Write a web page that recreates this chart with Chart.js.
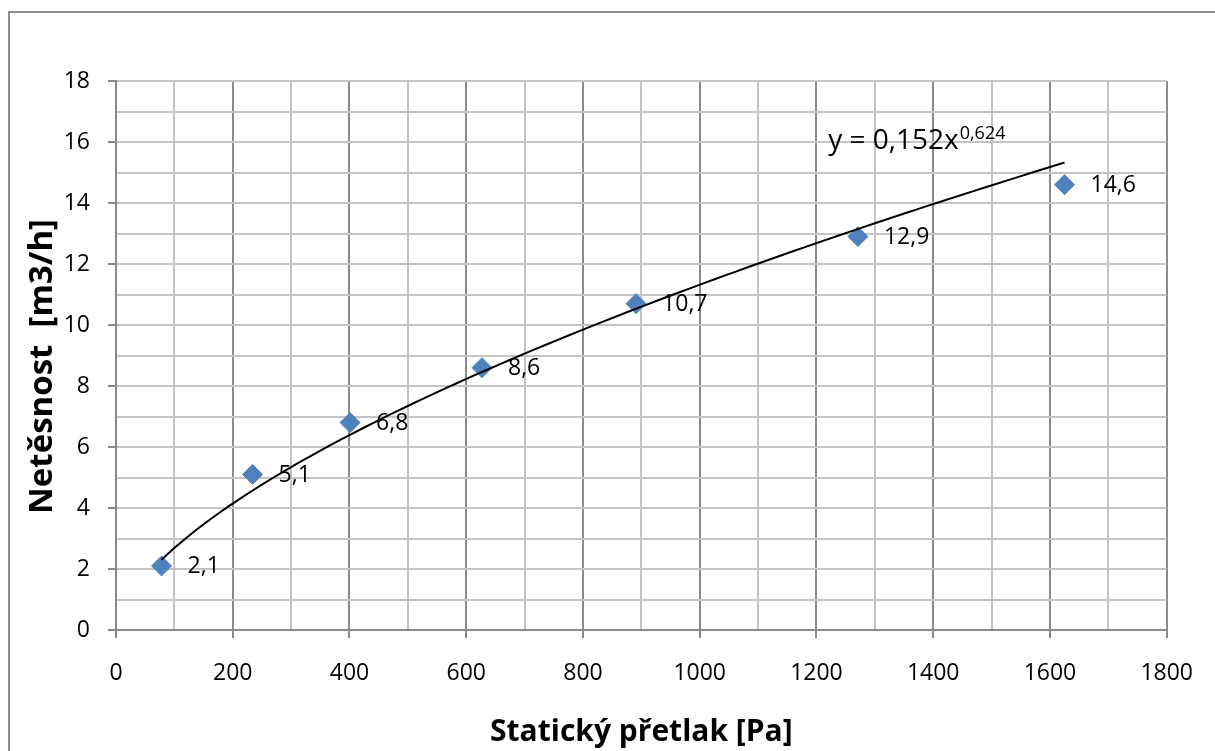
<!DOCTYPE html>
<html lang="cs">
<head>
<meta charset="utf-8">
<title>Netěsnost v závislosti na statickém přetlaku</title>
<script src="https://cdn.jsdelivr.net/npm/chart.js@4/dist/chart.umd.min.js"></script>
<style>
  html, body { margin: 0; padding: 0; background: #ffffff; }
  #wrap { width: 1215px; height: 751px; position: relative; }
</style>
</head>
<body>
<div id="wrap"><canvas id="chart" width="1215" height="751"></canvas></div>
<script>
// Measured points: static overpressure [Pa] and leakage [m3/h]
const pressurePa = [78, 234, 401, 627, 891, 1271, 1625];
const leakageM3h = [2.1, 5.1, 6.8, 8.6, 10.7, 12.9, 14.6];

// Power trendline y = a * x^b, as stated in the chart label
const trendA = 0.152;
const trendB = 0.624;
const trendLabelMain = 'y = 0,152x';
const trendLabelExp = '0,624';

// Axis ranges and tick spacing
const xRange = [0, 1800];
const yRange = [0, 18];
const xMajorStep = 200;
const xMinorStep = 100;
const yMajorStep = 2;
const yMinorStep = 1;

const xTitle = 'Statický přetlak [Pa]';
const yTitle = 'Netěsnost  [m3/h]';

const FONT = '"Open Sans", "DejaVu Sans", sans-serif';
const AXIS_DARK = '#8a8a8a';
const GRID_LIGHT = '#c4c4c4';
const MARKER_BLUE = '#4f81bd';

const points = pressurePa.map((x, i) => ({ x: x, y: leakageM3h[i] }));

// Trendline sampled between the first and last measured pressures
const trendPoints = [];
const tStart = pressurePa[0];
const tEnd = pressurePa[pressurePa.length - 1];
const tSteps = 80;
for (let i = 0; i <= tSteps; i++) {
  const x = tStart + (tEnd - tStart) * i / tSteps;
  trendPoints.push({ x: x, y: trendA * Math.pow(x, trendB) });
}

const fmt = v => String(v).replace('.', ',');

// Outer frame, axis titles, point value labels and the trendline equation
const annotations = {
  id: 'annotations',
  beforeDraw(chart) {
    const ctx = chart.ctx;
    ctx.save();
    ctx.fillStyle = '#ffffff';
    ctx.fillRect(0, 0, chart.width, chart.height);
    ctx.strokeStyle = '#8c8c8c';
    ctx.lineWidth = 2;
    ctx.strokeRect(9, 12, chart.width + 40, chart.height + 40);
    ctx.restore();
  },
  afterDraw(chart) {
    const ctx = chart.ctx;
    const area = chart.chartArea;
    ctx.save();
    ctx.fillStyle = '#000000';
    ctx.textBaseline = 'alphabetic';
    ctx.textAlign = 'center';

    // x axis title
    ctx.font = 'bold 30px ' + FONT;
    ctx.fillText(xTitle, (area.left + area.right) / 2, 741);

    // y axis title, rotated
    ctx.save();
    ctx.translate(52, (area.top + area.bottom) / 2 + 11);
    ctx.rotate(-Math.PI / 2);
    ctx.font = 'bold 33px ' + FONT;
    ctx.fillText(yTitle, 0, 0);
    ctx.restore();
    ctx.restore();
  },
  afterDatasetsDraw(chart) {
    const ctx = chart.ctx;
    const xs = chart.scales.x;
    const ys = chart.scales.y;
    ctx.save();
    ctx.fillStyle = '#000000';
    ctx.font = '23px ' + FONT;
    ctx.textAlign = 'left';
    ctx.textBaseline = 'middle';
    const meta = chart.getDatasetMeta(0);
    meta.data.forEach((el, i) => {
      ctx.fillText(fmt(leakageM3h[i]), el.x + 26, el.y + 1);
    });

    // equation placed at (1220 Pa, 15.77 m3/h)
    const ex = xs.getPixelForValue(1220);
    const ey = ys.getPixelForValue(15.77);
    ctx.textBaseline = 'alphabetic';
    ctx.font = '28px ' + FONT;
    ctx.fillText(trendLabelMain, ex, ey);
    const w = ctx.measureText(trendLabelMain).width;
    ctx.font = '18px ' + FONT;
    ctx.fillText(trendLabelExp, ex + w + 1, ey - 10);
    ctx.restore();
  }
};

new Chart(document.getElementById('chart'), {
  type: 'scatter',
  data: {
    datasets: [
      {
        label: 'Netěsnost',
        data: points,
        pointStyle: 'rectRot',
        pointRadius: 10,
        pointHoverRadius: 10,
        backgroundColor: MARKER_BLUE,
        borderColor: MARKER_BLUE,
        borderWidth: 1,
        order: 2
      },
      {
        label: 'Trend',
        data: trendPoints,
        showLine: true,
        pointRadius: 0,
        borderColor: '#000000',
        borderWidth: 2,
        fill: false,
        tension: 0,
        order: 1
      }
    ]
  },
  options: {
    responsive: false,
    animation: false,
    devicePixelRatio: 1,
    layout: { padding: { top: 81, right: 45, left: 0, bottom: 0 } },
    plugins: {
      legend: { display: false },
      tooltip: { enabled: false }
    },
    scales: {
      x: {
        type: 'linear',
        min: xRange[0],
        max: xRange[1],
        afterFit(scale) { scale.height = 121; },
        ticks: {
          stepSize: xMinorStep,
          autoSkip: false,
          maxRotation: 0,
          padding: 22,
          color: '#000000',
          font: { family: FONT, size: 23 },
          callback: v => (v % xMajorStep === 0 ? String(v) : '')
        },
        grid: {
          lineWidth: 2,
          tickLength: 8,
          color: c => (c.tick && c.tick.value % xMajorStep === 0 ? AXIS_DARK : GRID_LIGHT),
          tickColor: c => (c.tick && c.tick.value % xMajorStep === 0 ? AXIS_DARK : 'rgba(0,0,0,0)')
        },
        border: { color: AXIS_DARK, width: 2 }
      },
      y: {
        type: 'linear',
        min: yRange[0],
        max: yRange[1],
        afterFit(scale) { scale.width = 116; },
        ticks: {
          stepSize: yMinorStep,
          autoSkip: false,
          padding: 18,
          color: '#000000',
          font: { family: FONT, size: 23 },
          callback: v => (v % yMajorStep === 0 ? String(v) : '')
        },
        grid: {
          lineWidth: 2,
          tickLength: 8,
          color: GRID_LIGHT,
          tickColor: c => (c.tick && c.tick.value % yMajorStep === 0 ? AXIS_DARK : 'rgba(0,0,0,0)')
        },
        border: { color: AXIS_DARK, width: 2 }
      }
    }
  },
  plugins: [annotations]
});
</script>
</body>
</html>
